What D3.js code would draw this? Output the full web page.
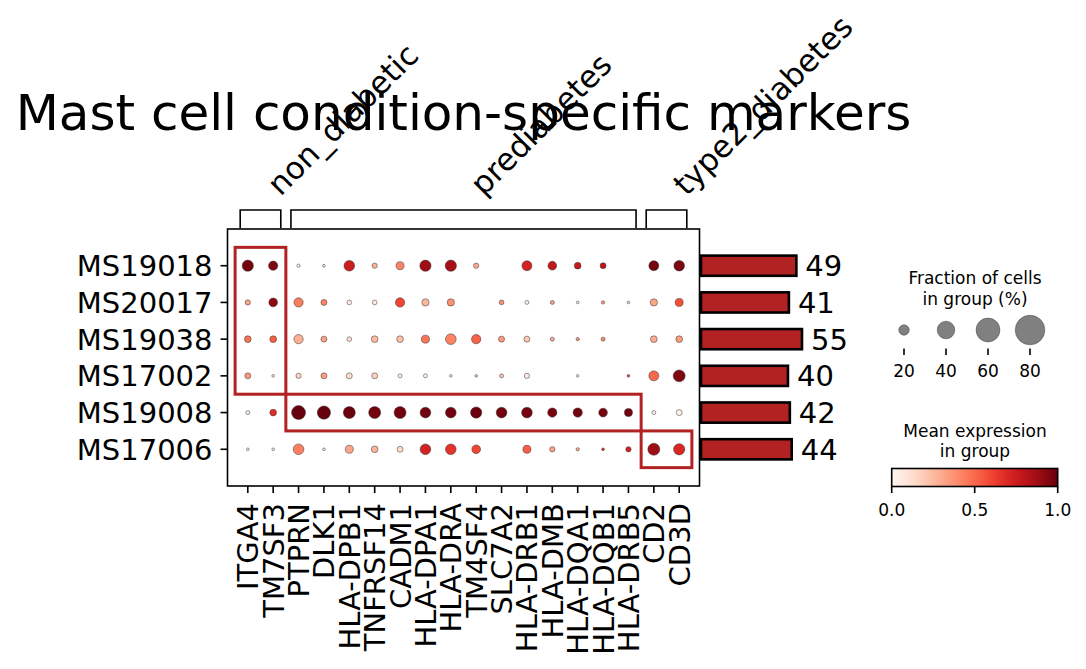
<!DOCTYPE html>
<html>
<head>
<meta charset="utf-8">
<script src="https://cdn.jsdelivr.net/npm/d3@7"></script>
<style>
  html, body { margin: 0; padding: 0; background: #fff; }
  svg { display: block; font-family: "DejaVu Sans", sans-serif; }
</style>
</head>
<body>
<svg id="chart" width="1086" height="669"></svg>
<script>
// ---------------- data ----------------
const chartTitle = "Mast cell condition-specific markers";
const genes = ["ITGA4","TM7SF3","PTPRN","DLK1","HLA-DPB1","TNFRSF14","CADM1","HLA-DPA1","HLA-DRA",
               "TM4SF4","SLC7A2","HLA-DRB1","HLA-DMB","HLA-DQA1","HLA-DQB1","HLA-DRB5","CD2","CD3D"];
const groups = ["MS19018","MS20017","MS19038","MS17002","MS19008","MS17006"];

const geneGroupLabels = ["non_diabetic","prediabetes","type2_diabetes"];
const geneGroupStart  = [0, 2, 16];
const geneGroupEnd    = [1, 15, 17];
// highlighted rows for each gene group
const highlightRowStart = [0, 4, 5];
const highlightRowEnd   = [3, 4, 5];

// fraction of cells in group (%) per row (group) and gene
const fractionPct = [
  [22, 17, 4.3, 3.3, 20.5, 8, 14, 22, 22, 8, 0, 18.7, 15.6, 11, 9.5, 0, 18.7, 20.5],   // MS19018
  [8, 15.6, 17, 9.5, 6.9, 6.9, 17, 12.3, 12.3, 0, 6.9, 5.5, 5.5, 3.3, 4.3, 3.3, 12.3, 14], // MS20017
  [11, 11, 17, 9.5, 6.9, 11, 11, 14, 20.5, 17, 9.5, 9.5, 5.5, 4.3, 5.5, 0, 11, 11],    // MS19038
  [9.5, 3.3, 8, 9.5, 9.5, 9.5, 5.5, 5.5, 3.3, 3.3, 5.5, 8, 0, 3.3, 0, 3.3, 18.7, 23.9],  // MS17002
  [5.5, 11, 29.4, 27.4, 23.9, 23.9, 23.9, 20.5, 20.5, 22, 20.5, 20.5, 17, 17, 15.6, 14, 5.5, 9.5], // MS19008
  [3.3, 3.3, 20.5, 3.3, 14, 11, 9.5, 20.5, 20.5, 15.6, 0, 14, 8, 4.3, 3.3, 8, 23.9, 22]  // MS17006
];
// mean expression in group (0-1)
const meanExpr = [
  [0.97, 0.95, 0.05, 0.10, 0.75, 0.27, 0.42, 0.88, 0.86, 0.30, 0, 0.72, 0.78, 0.76, 0.80, 0, 0.97, 0.96],
  [0.32, 0.92, 0.44, 0.42, 0.05, 0.06, 0.60, 0.26, 0.38, 0, 0.38, 0.04, 0.33, 0.10, 0.34, 0.15, 0.32, 0.57],
  [0.47, 0.53, 0.28, 0.33, 0.12, 0.25, 0.23, 0.46, 0.42, 0.52, 0.35, 0.20, 0.29, 0.36, 0.39, 0, 0.29, 0.34],
  [0.35, 0.10, 0.17, 0.34, 0.13, 0.18, 0.04, 0.03, 0.10, 0.20, 0.23, 0.08, 0, 0.10, 0, 0.60, 0.50, 0.95],
  [0.04, 0.68, 1.00, 1.00, 0.99, 0.98, 0.98, 0.98, 0.98, 0.99, 0.98, 0.97, 0.97, 0.98, 0.97, 0.98, 0.04, 0.03],
  [0.10, 0.08, 0.43, 0.10, 0.32, 0.27, 0.13, 0.72, 0.66, 0.60, 0, 0.53, 0.33, 0.30, 0.65, 0.72, 0.88, 0.70]
];
const cellCounts = [49, 41, 55, 40, 42, 44];

const sizeLegendTicks = [20, 40, 60, 80];
const colorbarTicks = [0, 0.5, 1.0];
const sizeLegendTitle = ["Fraction of cells", "in group (%)"];
const colorLegendTitle = ["Mean expression", "in group"];

// ---------------- layout ----------------
const svg = d3.select("#chart");
const plot = { left: 227.5, right: 699.5, top: 229, bottom: 486 };
const highlightColor = "#b22222";
const barColor = "#b22222";
const labelFont = 29;
const groupLabelFont = 31;
const legendFont = 17;

svg.append("rect").attr("width", 1086).attr("height", 669).attr("fill", "#fff");

const x = d3.scaleLinear().domain([-0.3, genes.length + 0.3]).range([plot.left, plot.right]);
const y = d3.scaleLinear().domain([-0.5, groups.length + 0.5]).range([plot.top, plot.bottom]);
const r = d3.scalePow().exponent(0.75).domain([0, 100]).range([0, 17.5]);
const color = d3.scaleSequential(d3.interpolateReds).domain([0, 1]);

// title
svg.append("text")
  .attr("x", (plot.left + plot.right) / 2).attr("y", 130)
  .attr("text-anchor", "middle").attr("font-size", 50).attr("fill", "#000")
  .text(chartTitle);

// dots
const cells = [];
groups.forEach((g, gi) => genes.forEach((gene, ci) => {
  cells.push({ gi, ci, frac: fractionPct[gi][ci], expr: meanExpr[gi][ci] });
}));
svg.append("g").selectAll("circle")
  .data(cells.filter(d => d.frac > 0))
  .join("circle")
  .attr("cx", d => x(d.ci + 0.5))
  .attr("cy", d => y(d.gi + 0.5))
  .attr("r", d => r(d.frac))
  .attr("fill", d => color(d.expr))
  .attr("stroke", "#333").attr("stroke-width", 0.5);

// highlight boxes
const hl = svg.append("g");
geneGroupLabels.forEach((lab, k) => {
  const x0 = x(geneGroupStart[k]), x1 = x(geneGroupEnd[k] + 1);
  const y0 = y(highlightRowStart[k]), y1 = y(highlightRowEnd[k] + 1);
  hl.append("rect")
    .attr("x", x0).attr("y", y0).attr("width", x1 - x0).attr("height", y1 - y0)
    .attr("fill", "none").attr("stroke", highlightColor).attr("stroke-width", 3);
});

// frame
svg.append("rect")
  .attr("x", plot.left).attr("y", plot.top)
  .attr("width", plot.right - plot.left).attr("height", plot.bottom - plot.top)
  .attr("fill", "none").attr("stroke", "#000").attr("stroke-width", 1.6);

// x axis ticks + labels
const xt = svg.append("g");
genes.forEach((gene, ci) => {
  const cx = x(ci + 0.5);
  xt.append("line").attr("x1", cx).attr("x2", cx).attr("y1", plot.bottom).attr("y2", plot.bottom + 7)
    .attr("stroke", "#000").attr("stroke-width", 1.6);
  xt.append("text")
    .attr("transform", `translate(${cx},${plot.bottom + 17}) rotate(-90)`)
    .attr("text-anchor", "end").attr("dy", "0.36em")
    .attr("font-size", labelFont).attr("fill", "#000")
    .text(gene);
});

// y axis ticks + labels
const yt = svg.append("g");
groups.forEach((g, gi) => {
  const cy = y(gi + 0.5);
  yt.append("line").attr("x1", plot.left - 7).attr("x2", plot.left).attr("y1", cy).attr("y2", cy)
    .attr("stroke", "#000").attr("stroke-width", 1.6);
  yt.append("text")
    .attr("x", plot.left - 15).attr("y", cy).attr("dy", "0.36em")
    .attr("text-anchor", "end").attr("font-size", labelFont).attr("fill", "#000")
    .text(g);
});

// gene group brackets
const br = svg.append("g");
const brTop = 210, brBottom = 228;
geneGroupLabels.forEach((lab, k) => {
  const bx0 = x(geneGroupStart[k] + 0.5 - 0.3);
  const bx1 = x(geneGroupEnd[k] + 0.5 + 0.3);
  br.append("path")
    .attr("d", `M${bx0},${brBottom}V${brTop}H${bx1}V${brBottom}`)
    .attr("fill", "none").attr("stroke", "#000").attr("stroke-width", 1.6);
  const cx = (bx0 + bx1) / 2;
  br.append("text")
    .attr("transform", `translate(${cx + 20},${brTop - 13}) rotate(-45)`)
    .attr("font-size", groupLabelFont).attr("fill", "#000")
    .text(lab);
});

// totals bar chart
const barDomain = [-53, 60];
const xBar = d3.scaleLinear().domain(barDomain).range([701, 701 + (barDomain[1] - barDomain[0]) * 0.935]);
const barH = 0.55 * (y(1) - y(0));
const bars = svg.append("g");
cellCounts.forEach((v, gi) => {
  const cy = y(gi + 0.5);
  bars.append("rect")
    .attr("x", xBar(barDomain[0])).attr("y", cy - barH / 2)
    .attr("width", xBar(v) - xBar(barDomain[0])).attr("height", barH)
    .attr("fill", barColor).attr("stroke", "#000").attr("stroke-width", 2.6);
  bars.append("text")
    .attr("x", xBar(v) + 9).attr("y", cy).attr("dy", "0.36em")
    .attr("font-size", labelFont).attr("fill", "#000")
    .text(v);
});

// size legend
const sl = svg.append("g");
const sx = d3.scalePoint().domain(sizeLegendTicks).range([904, 1030]);
sizeLegendTitle.forEach((t, i) => {
  sl.append("text").attr("x", 975).attr("y", 284 + i * 21)
    .attr("text-anchor", "middle").attr("font-size", legendFont).attr("fill", "#000").text(t);
});
sizeLegendTicks.forEach(v => {
  sl.append("circle").attr("cx", sx(v)).attr("cy", 330).attr("r", r(v))
    .attr("fill", "#808080").attr("stroke", "#444").attr("stroke-width", 0.5);
  sl.append("line").attr("x1", sx(v)).attr("x2", sx(v)).attr("y1", 348.5).attr("y2", 355)
    .attr("stroke", "#000").attr("stroke-width", 1.6);
  sl.append("text").attr("x", sx(v)).attr("y", 377)
    .attr("text-anchor", "middle").attr("font-size", legendFont).attr("fill", "#000").text(v);
});

// colour bar legend
const cl = svg.append("g");
const xCb = d3.scaleLinear().domain([0, 1]).range([891.7, 1057.7]);
colorLegendTitle.forEach((t, i) => {
  cl.append("text").attr("x", 975).attr("y", 437 + i * 20)
    .attr("text-anchor", "middle").attr("font-size", legendFont).attr("fill", "#000").text(t);
});
const defs = svg.append("defs");
const grad = defs.append("linearGradient").attr("id", "cbgrad").attr("x1", "0%").attr("x2", "100%");
d3.range(0, 1.0001, 0.05).forEach(t => {
  grad.append("stop").attr("offset", (t * 100) + "%").attr("stop-color", color(t));
});
cl.append("rect").attr("x", xCb(0)).attr("y", 468.5).attr("width", xCb(1) - xCb(0)).attr("height", 18)
  .attr("fill", "url(#cbgrad)").attr("stroke", "#000").attr("stroke-width", 1.6);
colorbarTicks.forEach(v => {
  cl.append("line").attr("x1", xCb(v)).attr("x2", xCb(v)).attr("y1", 486.5).attr("y2", 493)
    .attr("stroke", "#000").attr("stroke-width", 1.6);
  cl.append("text").attr("x", xCb(v)).attr("y", 516)
    .attr("text-anchor", "middle").attr("font-size", legendFont).attr("fill", "#000")
    .text(d3.format(".1f")(v));
});
</script>
</body>
</html>
